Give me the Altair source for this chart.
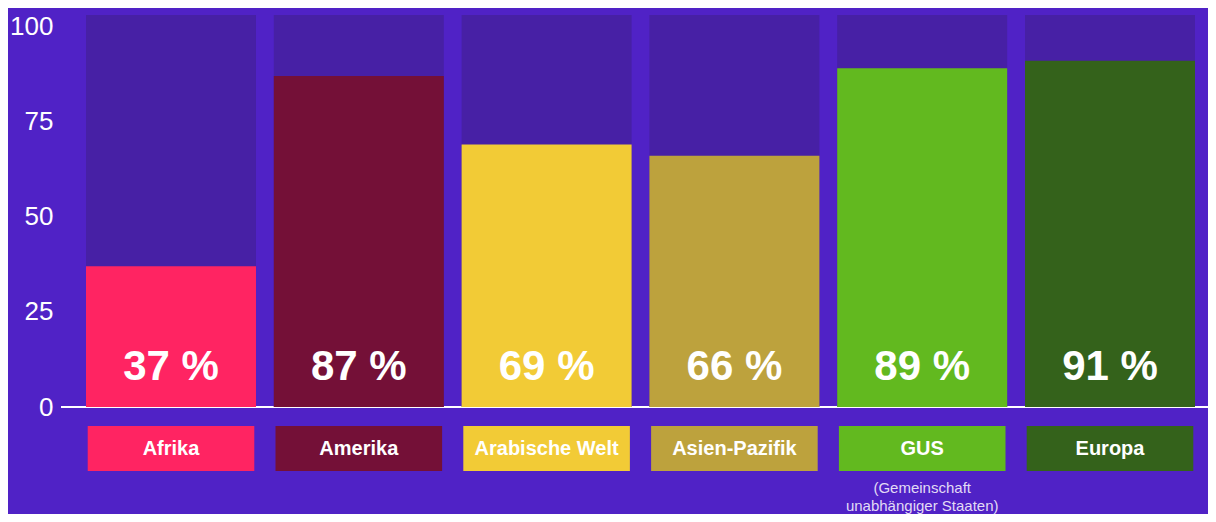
import altair as alt
import pandas as pd

regions = ["Afrika", "Amerika", "Arabische Welt", "Asien-Pazifik", "GUS", "Europa"]
values = [37, 87, 69, 66, 89, 91]
colors = ["#ff2462", "#741037", "#f2cb36", "#bda23d", "#62b91f", "#34621b"]
y_ticks = [0, 25, 50, 75, 100]
note_region = "GUS"
note_lines = ["(Gemeinschaft", "unabhängiger Staaten)"]

BG = "#5022c6"
TRACK = "#4720a5"
FONT = "Liberation Sans"

df = pd.DataFrame({
    "region": regions,
    "value": values,
    "label": [f"{v} %" for v in values],
})

x = alt.X("region:N", sort=regions, axis=None,
          scale=alt.Scale(range=[25, 1134], paddingInner=0.0948, paddingOuter=0))
y_scale = alt.Scale(domain=[0, 103], nice=False)
color = alt.Color("region:N", scale=alt.Scale(domain=regions, range=colors), legend=None)

base = alt.Chart(df)

axis_line = alt.Chart(pd.DataFrame({"v": [0]})).mark_rule(color="white", strokeWidth=2).encode(
    x=alt.value(0), x2=alt.value(1147),
    y=alt.Y("v:Q", scale=y_scale, axis=alt.Axis(
        values=y_ticks, title=None, domain=False, ticks=False, grid=False,
        labelColor="white", labelFontSize=26, labelFont=FONT, labelPadding=8,
        labelFontWeight="normal")),
)

track = base.mark_bar(color=TRACK).encode(
    x=x, y=alt.datum(103, scale=y_scale), y2=alt.datum(0),
)

bars = base.mark_bar().encode(
    x=x, y=alt.Y("value:Q", scale=y_scale), color=color,
)

pct = base.mark_text(color="white", fontSize=42, fontWeight="bold", font=FONT,
                     baseline="middle").encode(
    x=x, y=alt.value(352), text="label:N",
)

boxes = base.mark_bar(width=alt.RelativeBandSize(0.98)).encode(
    x=x, y=alt.value(411), y2=alt.value(456), color=color,
)

box_text = base.mark_text(color="white", fontSize=20, fontWeight="bold", font=FONT,
                          baseline="middle").encode(
    x=x, y=alt.value(434), text="region:N",
)

note = alt.Chart(pd.DataFrame({"region": [note_region], "t": [note_lines]})).mark_text(
    color="#e2dbf5", fontSize=15, font=FONT, baseline="middle", lineHeight=18,
).encode(x=x, y=alt.value(473), text="t")

chart = alt.layer(axis_line, track, bars, pct, boxes, box_text, note).properties(
    width=1147, height=392,
    background=BG,
    padding={"left": 53, "top": 7, "right": 0, "bottom": 107},
    autosize=alt.AutoSizeParams(type="none"),
).configure_view(stroke=None).configure_axis(labelFont=FONT)

chart.save("out.html", embed_options={"renderer": "svg", "actions": False})
